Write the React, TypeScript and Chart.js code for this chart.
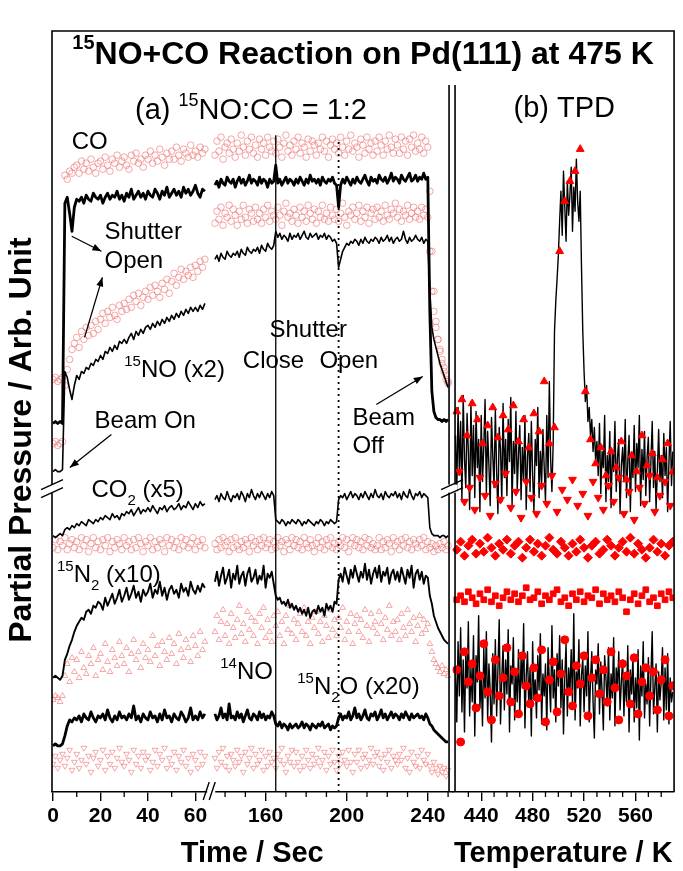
import React, { useEffect, useRef } from 'react';
import { Chart, registerables } from 'chart.js';
Chart.register(...registerables);

// ---------------- time grids ----------------
const timeLeft = [
  0, 1, 2, 3, 4, 5, 6, 7, 8, 9, 10, 11, 12, 13, 14, 15, 16, 17, 18, 19,
  20, 21, 22, 23, 24, 25, 26, 27, 28, 29, 30, 31, 32, 33, 34, 35, 36, 37, 38, 39,
  40, 41, 42, 43, 44, 45, 46, 47, 48, 49, 50, 51, 52, 53, 54, 55, 56, 57, 58, 59,
  60, 61, 62, 63, 64,
];
const timeRight = [
  135, 136, 137, 138, 139, 140, 141, 142, 143, 144, 145, 146, 147, 148, 149, 150, 151, 152, 153, 154,
  155, 156, 157, 158, 159, 160, 161, 162, 163, 164, 165, 166, 167, 168, 169, 170, 171, 172, 173, 174,
  175, 176, 177, 178, 179, 180, 181, 182, 183, 184, 185, 186, 187, 188, 189, 190, 191, 192, 193, 194,
  195, 196, 197, 198, 199, 200, 201, 202, 203, 204, 205, 206, 207, 208, 209, 210, 211, 212, 213, 214,
  215, 216, 217, 218, 219, 220, 221, 222, 223, 224, 225, 226, 227, 228, 229, 230, 231, 232, 233, 234,
  235, 236, 237, 238, 239, 240, 241, 242, 243, 244, 245, 246, 247, 248, 249, 250,
];

// ---------------- panel (a) series, arb. units ----------------
const coLineL = [184,185,184,185,184,294,297,289,280,292, 296,295,297,294,298,296,295,299,297,296, 298,294,297,299,296,298,297,300,296,298, 295,299,297,301,296,298,300,297,299,296, 300,298,297,301,299,296,300,298,302,297, 299,301,298,300,297,302,299,301,298,300, 303,299,297,301,300];
const coLineR = [303,305,302,306,304,303,307,305,304,306, 302,305,307,304,306,303,305,308,304,306, 305,303,307,304,306,305,302,306,304,305, 313,304,306,303,305,307,304,306,305,303, 306,304,307,305,303,306,304,308,305,306, 304,306,303,307,305,304,306,305,307,304, 303,292,303,306,304,307,305,303,306,304, 307,305,304,306,308,305,303,307,305,306, 304,308,306,305,307,304,306,309,305,307, 306,304,308,306,305,307,309,305,306,308, 305,307,306,309,306,307,240,200,190,187, 186,186,185,186,185,186];
const coDotsL = [206,207,205,206,207,308,306,310,309,312, 313,309,315,311,314,310,316,312,309,314, 315,311,317,313,310,316,314,318,312,315, 317,313,311,318,315,319,314,316,312,318, 316,320,314,318,315,321,317,313,319,316, 320,316,322,318,315,321,319,317,323,318, 320,317,322,319,321];
const coDotsR = [318,325,320,327,316,322,324,319,326,321, 317,324,320,328,322,318,325,321,327,319, 323,317,326,321,324,318,327,322,320,325, 319,326,322,317,324,328,320,323,318,325, 321,327,319,324,322,317,326,320,325,323, 318,324,321,327,320,325,317,323,326,321, 324,319,327,322,318,325,321,328,320,324, 322,317,326,323,319,327,321,324,318,325, 320,327,323,318,325,321,328,322,319,326, 323,319,327,321,325,318,326,322,328,320, 324,321,327,319,325,322,300,270,250,235, 226,220,214,210,206,204];
const noLineL = [160,161,160,160,161,210,207,201,196,203, 208,206,210,209,212,211,214,213,216,215, 218,216,220,219,222,220,223,221,225,224, 226,224,227,229,226,230,228,231,229,232, 233,231,234,232,235,233,236,234,237,235, 238,236,239,237,240,238,241,239,242,240, 242,240,243,241,244];
const noLineR = [266,268,265,269,267,266,270,268,267,269, 268,270,267,271,269,268,272,270,269,271, 270,272,269,273,271,270,274,272,271,273, 280,277,279,276,278,277,275,279,276,278, 277,279,276,278,280,277,276,279,277,278, 279,276,278,277,279,276,278,277,275,276, 274,262,266,270,272,274,273,275,274,276, 275,273,276,274,277,275,274,276,275,277, 276,274,277,275,276,278,275,277,274,276, 277,275,276,280,276,274,277,275,276,278, 276,275,277,274,276,275,250,232,226,222, 218,214,211,208,205,202];
const noDotsL = [174,175,173,174,175,203,211,216,221,224, 227,222,230,226,232,228,233,229,235,231, 236,239,234,240,237,242,238,236,243,240, 244,241,246,242,248,245,249,243,247,250, 246,252,248,253,250,247,254,251,256,249, 255,259,253,257,261,256,260,258,262,257, 263,260,265,262,266];
const noDotsR = [284,290,286,292,283,289,287,293,285,291, 288,283,290,286,293,287,284,291,289,285, 292,286,289,284,291,287,293,285,290,288, 286,292,288,283,290,294,287,289,285,291, 288,284,292,287,290,285,293,289,286,291, 284,290,287,293,286,289,285,292,288,286, 291,285,289,294,287,283,290,288,292,286, 289,293,285,290,287,292,284,289,291,286, 292,287,290,285,293,288,286,291,289,294, 287,291,285,290,288,293,286,289,292,287, 290,286,292,288,291,287,270,250,240,232, 226,221,216,212,208,205];
const co2LineL = [128,127,128,129,128,131,132,131,133,132, 134,133,135,134,133,136,135,134,136,135, 137,136,138,137,136,139,137,138,136,139, 138,140,139,141,138,140,142,139,141,140, 142,140,143,141,139,142,141,143,140,142, 143,141,142,144,141,143,142,145,143,141, 144,142,145,143,144];
const co2LineR = [146,148,145,149,147,146,150,147,145,148, 147,149,146,150,148,145,149,147,151,148, 146,149,147,150,148,146,149,147,150,148, 136,135,134,136,135,133,135,134,136,135, 134,136,135,133,135,134,136,135,134,133, 135,134,136,135,133,135,134,136,135,134, 135,146,148,147,149,146,148,150,147,149, 148,146,149,147,150,148,146,149,147,151, 148,147,149,146,150,148,147,149,148,150, 147,149,146,150,148,147,151,148,146,149, 148,150,147,149,148,147,132,129,128,128, 128,127,128,128,127,128];
const co2DotsL = [122,126,121,125,123,127,121,124,126,122, 125,121,127,123,126,120,124,127,122,125, 121,126,123,127,120,125,122,126,124,121, 127,123,125,121,126,122,127,124,120,125, 123,127,121,125,122,126,124,120,127,123, 126,122,125,121,127,123,126,122,124,127, 121,125,123,126,122];
const co2DotsR = [124,121,126,122,127,123,125,120,126,122, 127,123,121,125,122,126,124,120,127,123, 125,121,126,123,127,122,124,126,121,125, 122,127,123,125,120,126,124,121,127,123, 126,122,125,121,127,124,122,126,123,120, 124,127,122,125,121,126,123,127,122,124, 121,125,123,127,122,126,120,124,127,123, 126,122,125,121,127,123,126,122,124,121, 123,127,121,125,122,126,124,120,127,123, 125,121,126,123,127,122,125,121,126,124, 122,126,123,127,121,125,122,124,120,123, 121,124,122,125,121,123];
const n2LineL = [57,58,57,56,58,66,69,73,76,80, 83,85,87,86,90,91,89,93,92,95, 94,91,97,93,96,99,94,97,101,95, 98,102,96,99,103,97,100,95,101,98, 100,104,97,101,99,105,98,102,96,101, 103,99,101,97,104,100,102,98,105,101, 99,103,100,104,102];
const n2LineR = [105,110,103,108,112,104,107,111,102,109, 106,113,104,108,110,103,109,112,105,107, 111,104,108,106,113,102,109,107,110,104, 98,96,97,94,95,93,96,92,94,91, 93,90,92,89,91,88,92,87,90,91, 89,93,90,92,88,94,91,93,90,95, 94,106,109,105,112,108,104,111,107,113, 109,105,110,107,114,106,111,104,109,112, 107,113,105,110,108,112,104,109,111,106, 110,105,112,108,104,111,107,113,102,109, 111,106,110,104,108,107,98,94,88,85, 82,80,78,76,75,74];
const n2DotsL = [46,48,47,45,48,58,64,55,67,60, 66,57,70,62,59,68,64,72,58,66, 69,61,74,65,60,71,67,63,75,68, 64,72,60,69,76,66,70,62,74,67, 71,65,78,68,73,63,75,70,66,77, 69,74,64,79,71,67,76,72,65,78, 73,68,80,71,75];
const n2DotsR = [80,88,76,85,91,78,84,74,89,82, 77,86,93,79,84,75,90,81,87,78, 85,74,89,82,92,77,86,80,75,88, 83,90,78,85,74,88,81,93,79,86, 76,84,89,80,92,78,85,74,87,82, 90,79,85,75,88,83,77,91,81,86, 78,87,82,92,76,85,80,89,74,84, 88,80,86,77,91,83,75,89,82,85, 79,90,84,76,87,81,93,78,85,80, 86,76,89,82,78,91,84,80,87,75, 83,88,79,86,81,84,74,70,66,64, 62,60,63,59,61,58];
const n2oLineL = [23,24,23,23,24,28,33,36,35,37, 36,38,35,39,37,36,40,37,35,38, 37,39,36,41,37,35,38,36,40,37, 38,36,39,37,43,36,38,35,39,37, 36,40,37,38,35,39,36,41,37,38, 35,39,37,36,40,38,35,37,42,36, 38,36,40,37,39];
const n2oLineR = [39,36,38,42,37,39,36,44,37,38, 36,40,37,39,35,38,41,37,36,39, 38,36,40,37,39,36,38,37,40,38, 34,33,35,32,34,33,31,34,32,33, 34,32,33,35,32,34,33,31,34,33, 32,34,33,35,32,33,34,31,33,32, 33,37,39,36,38,37,40,36,38,42, 37,39,36,38,41,37,36,39,38,40, 36,38,41,37,39,36,38,40,37,39, 38,36,39,37,40,38,36,39,37,38, 39,37,38,36,39,37,34,33,31,30, 29,28,27,26,25,25];
const no14DotsL = [14,18,12,16,19,13,17,21,11,15, 19,12,16,22,14,18,10,17,20,13, 16,21,11,18,14,20,12,17,22,15, 13,19,16,10,21,14,18,12,20,16, 18,11,15,21,13,19,16,22,12,17, 14,20,11,18,15,21,13,17,10,19, 16,12,20,14,18];
const no14DotsR = [17,12,20,15,22,13,18,11,19,16, 13,21,15,18,10,20,14,17,22,12, 19,14,16,21,11,18,13,20,15,17, 12,19,16,22,14,10,18,15,21,13, 20,15,11,18,13,21,16,12,19,14, 17,22,13,16,20,11,18,14,21,15, 11,18,14,20,16,13,21,15,10,19, 15,21,12,17,19,13,16,22,14,18, 20,13,17,11,19,15,21,12,18,16, 14,19,16,22,12,17,10,20,15,13, 18,12,21,16,14,19,13,10,15,12, 9,13,10,12,8,11];

const shutterCloseTime = 165;
const shutterOpenTime = 196;
const shutterLineTop = 328;

// ---------------- panel (b) TPD ----------------
const tempGrid = [
  420,421,422,423,424,425,426,427,428,429, 430,431,432,433,434,435,436,437,438,439,
  440,441,442,443,444,445,446,447,448,449, 450,451,452,453,454,455,456,457,458,459,
  460,461,462,463,464,465,466,467,468,469, 470,471,472,473,474,475,476,477,478,479,
  480,481,482,483,484,485,486,487,488,489, 490,491,492,493,494,495,496,497,498,499,
  500,501,502,503,504,505,506,507,508,509, 510,511,512,513,514,515,516,517,518,519,
  520,521,522,523,524,525,526,527,528,529, 530,531,532,533,534,535,536,537,538,539,
  540,541,542,543,544,545,546,547,548,549, 550,551,552,553,554,555,556,557,558,559,
  560,561,562,563,564,565,566,567,568,569, 570,571,572,573,574,575,576,577,578,579,
  580,581,582,583,584,585,586,587,588,589,
];
const tpdUpperLine = [178,150,192,160,185,145,198,166,152,189, 170,141,195,158,183,147,190,162,176,140, 188,155,172,196,149,180,163,143,187,168, 152,191,160,139,182,171,145,194,157,176, 148,186,165,197,143,175,159,190,151,168, 183,146,172,155,188,141,167,179,150,185, 158,140,176,163,192,147,170,154,181,162, 145,188,157,205,166,150,175,230,245,256, 268,285,300,278,310,292,275,305,288,298, 312,280,302,290,316,295,285,300,262,230, 210,195,203,185,192,178,186,170,182,165, 175,158,184,149,170,162,188,145,168,155, 180,142,171,160,185,150,167,176,139,163, 172,155,186,147,165,178,140,169,157,183, 150,174,162,188,143,171,156,180,148,167, 177,145,165,185,152,170,141,160,181,155, 168,147,179,158,172,140,164,185,153,170];
const tpdLowerLine = [60,35,75,48,82,40,66,30,70,52, 85,38,62,45,78,28,68,55,88,42, 58,33,72,47,80,36,64,50,25,69, 44,76,38,61,86,34,57,73,41,66, 49,81,30,63,54,77,36,60,45,71, 39,67,52,84,32,58,70,43,62,28, 75,46,56,37,68,51,79,34,59,48, 64,31,72,55,40,83,47,61,35,69, 53,78,42,66,29,57,74,38,62,50, 71,44,89,36,60,52,76,33,58,67, 40,63,48,80,35,56,70,45,27,61, 54,74,39,65,50,31,68,57,43,72, 36,59,47,77,33,62,52,70,41,55, 66,38,58,45,73,30,61,49,68,35, 57,42,71,26,63,48,75,37,54,44, 67,33,58,80,39,52,64,30,60,46, 55,72,36,62,41,69,34,57,45,50];
const tempUp = [421,425,429,433,437,441,445,449,453,457, 461,465,469,473,477,481,485,489,493,497, 501,505,509,513,517,521,525,529,533,537, 541,545,549,553,557,561,565,569,573,577, 581,585,589];
const upTriVals = [190,196,178,194,186,174,183,192,177,188, 181,193,175,186,172,189,180,205,174,182, 270,295,305,310,321,200,176,164,172,158, 170,162,175,156,168,160,178,163,169,157, 166,174,160];
const tempDown = [423,427,431,435,439,443,447,451,455,459, 463,467,471,475,479,483,487,491,495,499, 503,507,511,515,519,523,527,531,535,539, 543,547,551,555,559,563,567,571,575,579, 583,587];
const downTriVals = [160,145,152,141,157,148,138,154,146,159, 142,150,137,155,147,139,153,144,158,140, 151,146,156,143,149,138,155,147,141,153, 145,157,139,150,136,152,144,158,140,148, 155,143];
const tempBand = [421,424,427,430,433,436,439,442,445,448, 451,454,457,460,463,466,469,472,475,478, 481,484,487,490,493,496,499,502,505,508, 511,514,517,520,523,526,529,532,535,538, 541,544,547,550,553,556,559,562,565,568, 571,574,577,580,583,586,589];
const diamondVals = [121,125,118,123,126,119,124,120,127,122, 118,124,121,126,119,123,125,117,122,126, 120,124,118,123,127,121,119,125,122,118, 124,120,126,122,117,123,125,119,121,126, 123,118,122,125,120,127,119,124,121,117, 122,126,120,124,118,123,125];
const squareVals = [96,98,95,100,97,94,99,96,101,95, 98,93,97,100,96,99,95,98,102,96, 97,100,94,98,96,99,101,95,97,93, 99,96,100,95,98,97,101,94,99,96, 98,95,100,97,90,96,99,94,98,101, 95,97,93,99,96,100,97];
const circleVals = [61,25,70,55,64,42,58,74,50,36, 66,48,57,72,45,60,39,68,53,44, 62,47,71,35,56,65,40,59,76,50, 43,63,54,68,38,57,66,49,61,45, 70,52,36,64,58,44,67,39,55,62, 48,60,41,56,66,38,53];

// ---------------- tick labels ----------------
const timeLeftTicks = [0, 20, 40, 60];
const timeLeftMinor = [10, 30, 50];
const timeRightTicks = [160, 200, 240];
const timeRightMinor = [140, 150, 170, 180, 190, 210, 220, 230, 250];
const tempTicks = [440, 480, 520, 560];
const tempMinor = [430, 450, 460, 470, 490, 500, 510, 530, 540, 550, 570, 580];

const FAM = "'Liberation Sans', Arial, sans-serif";
const NARROW = "'Liberation Sans Narrow', 'Arial Narrow', 'Liberation Sans', Arial, sans-serif";

const zip = (xs: number[], ys: number[]) => ys.map((y, i) => ({ x: xs[i], y }));

const lineDs = (xs: number[], ys: number[], axis: string, w: number) => ({
  data: zip(xs, ys), xAxisID: axis, yAxisID: 'y', borderColor: '#000', borderWidth: w,
  pointRadius: 0, fill: false, tension: 0, order: 1, borderJoinStyle: 'round',
});
const pinkDs = (xs: number[], ys: number[], axis: string, style: string, rot = 0) => ({
  data: zip(xs, ys), xAxisID: axis, yAxisID: 'y', showLine: false, pointStyle: style,
  pointRotation: rot, pointRadius: 3.3, pointBorderWidth: 1,
  pointBorderColor: 'rgba(238,110,110,0.6)', pointBackgroundColor: 'rgba(255,255,255,0)', order: 5,
});
const redDs = (xs: number[], ys: number[], style: string, rot = 0, r = 4) => ({
  data: zip(xs, ys), xAxisID: 'x3', yAxisID: 'y', showLine: false, pointStyle: style,
  pointRotation: rot, pointRadius: r, pointBorderWidth: 1,
  pointBorderColor: '#ff0000', pointBackgroundColor: '#ff0000', order: 0,
});

type Part = { t: string; k?: 'sup' | 'sub' };
type Note = { parts: Part[]; axis: string; x: number; y: number; align?: 'left' | 'center' };
const notes: Note[] = [
  { parts: [{ t: 'CO' }], axis: 'x1', x: 7.9, y: 324.5 },
  { parts: [{ t: 'Shutter' }], axis: 'x1', x: 21.7, y: 279.5 },
  { parts: [{ t: 'Open' }], axis: 'x1', x: 21.7, y: 265 },
  { parts: [{ t: '15', k: 'sup' }, { t: 'NO (x2)' }], axis: 'x1', x: 30, y: 210.5 },
  { parts: [{ t: 'Beam On' }], axis: 'x1', x: 17.5, y: 185 },
  { parts: [{ t: 'CO' }, { t: '2', k: 'sub' }, { t: ' (x5)' }], axis: 'x1', x: 16.2, y: 150.5 },
  { parts: [{ t: '15', k: 'sup' }, { t: 'N' }, { t: '2', k: 'sub' }, { t: ' (x10)' }], axis: 'x1', x: 1.7, y: 108 },
  { parts: [{ t: 'Shutter' }], axis: 'x2', x: 181, y: 230.5, align: 'center' },
  { parts: [{ t: 'Close' }], axis: 'x2', x: 163.9, y: 215, align: 'center' },
  { parts: [{ t: 'Open' }], axis: 'x2', x: 201, y: 215, align: 'center' },
  { parts: [{ t: 'Beam' }], axis: 'x2', x: 202.8, y: 186.5 },
  { parts: [{ t: 'Off' }], axis: 'x2', x: 202.8, y: 172.5 },
  { parts: [{ t: '14', k: 'sup' }, { t: 'NO' }], axis: 'x2', x: 137.6, y: 59.5 },
  { parts: [{ t: '15', k: 'sup' }, { t: 'N' }, { t: '2', k: 'sub' }, { t: 'O (x20)' }], axis: 'x2', x: 175.6, y: 52 },
];
type Arrow = { axis: string; x0: number; y0: number; x1: number; y1: number };
const arrows: Arrow[] = [
  { axis: 'x1', x0: 7.9, y0: 277.5, x1: 20.4, y1: 270 },
  { axis: 'x1', x0: 13.3, y0: 227, x1: 20.8, y1: 257 },
  { axis: 'x1', x0: 24.6, y0: 178.5, x1: 7.1, y1: 162 },
  { axis: 'x2', x0: 214.6, y0: 193.5, x1: 237.5, y1: 207.5 },
];

function rich(ctx: CanvasRenderingContext2D, parts: Part[], x: number, y: number, size: number, weight: string, align: string) {
  const big = `${weight} ${size}px ${FAM}`;
  const small = `${weight} ${Math.round(size * 0.62)}px ${FAM}`;
  const ws = parts.map((p) => { ctx.font = p.k ? small : big; return ctx.measureText(p.t).width; });
  const total = ws.reduce((a, b) => a + b, 0);
  let cx = align === 'center' ? x - total / 2 : x;
  ctx.textAlign = 'left';
  ctx.textBaseline = 'middle';
  parts.forEach((p, i) => {
    ctx.font = p.k ? small : big;
    const dy = p.k === 'sup' ? -size * 0.36 : p.k === 'sub' ? size * 0.42 : 0;
    ctx.fillText(p.t, cx, y + dy);
    cx += ws[i];
  });
}

function arrowTo(ctx: CanvasRenderingContext2D, ax: number, ay: number, bx: number, by: number) {
  ctx.beginPath(); ctx.moveTo(ax, ay); ctx.lineTo(bx, by); ctx.stroke();
  const a = Math.atan2(by - ay, bx - ax);
  const L = 9, W = 3.5;
  ctx.beginPath();
  ctx.moveTo(bx, by);
  ctx.lineTo(bx - L * Math.cos(a) + W * Math.sin(a), by - L * Math.sin(a) - W * Math.cos(a));
  ctx.lineTo(bx - L * Math.cos(a) - W * Math.sin(a), by - L * Math.sin(a) + W * Math.cos(a));
  ctx.closePath(); ctx.fill();
}

const decor = {
  id: 'decor',
  beforeDraw(chart: any) {
    const c = chart.ctx; c.save(); c.fillStyle = '#fff'; c.fillRect(0, 0, chart.width, chart.height); c.restore();
  },
  afterDraw(chart: any) {
    const ctx: CanvasRenderingContext2D = chart.ctx;
    const { left, right, top, bottom } = chart.chartArea;
    const sx1 = chart.scales.x1, sx2 = chart.scales.x2, sx3 = chart.scales.x3, sy = chart.scales.y;
    ctx.save();
    ctx.strokeStyle = '#000'; ctx.fillStyle = '#000'; ctx.lineWidth = 1.6;
    // outer frame
    ctx.beginPath();
    ctx.moveTo(left, bottom); ctx.lineTo(left, top); ctx.lineTo(right, top); ctx.lineTo(right, bottom);
    ctx.stroke();
    // panel divider (double line)
    const dv = sx3.left;
    ctx.beginPath();
    ctx.moveTo(dv - 3.5, top + 54); ctx.lineTo(dv - 3.5, bottom);
    ctx.moveTo(dv + 2.5, top + 54); ctx.lineTo(dv + 2.5, bottom);
    ctx.stroke();
    // minor ticks
    ctx.lineWidth = 1.3;
    const minor = (s: any, vals: number[]) => vals.forEach((v) => {
      const px = s.getPixelForValue(v); ctx.beginPath(); ctx.moveTo(px, bottom); ctx.lineTo(px, bottom + 5); ctx.stroke();
    });
    minor(sx1, timeLeftMinor); minor(sx2, timeRightMinor); minor(sx3, tempMinor);
    // y break marks
    const yb = sy.getPixelForValue(151.5);
    ctx.fillStyle = '#fff';
    ctx.fillRect(left - 2, yb - 4, 4, 8);
    ctx.fillRect(dv - 6, yb - 4, 11, 8);
    ctx.fillStyle = '#000';
    ctx.lineWidth = 1.4;
    const brk = (cx: number, w: number) => {
      ctx.beginPath();
      ctx.moveTo(cx - w, yb + 1); ctx.lineTo(cx + w, yb - 9);
      ctx.moveTo(cx - w, yb + 9); ctx.lineTo(cx + w, yb - 1);
      ctx.stroke();
    };
    brk(left, 11); brk(dv - 0.5, 11);
    // x break mark
    const xb = sx1.right;
    ctx.fillStyle = '#fff'; ctx.fillRect(xb - 4, bottom - 2, 8, 5); ctx.fillStyle = '#000';
    ctx.beginPath();
    ctx.moveTo(xb - 8, bottom + 8); ctx.lineTo(xb - 2, bottom - 10);
    ctx.moveTo(xb - 2, bottom + 8); ctx.lineTo(xb + 4, bottom - 10);
    ctx.stroke();
    // annotations
    notes.forEach((n) => {
      const s = chart.scales[n.axis];
      rich(ctx, n.parts, s.getPixelForValue(n.x), sy.getPixelForValue(n.y), 24, 'normal', n.align || 'left');
    });
    ctx.lineWidth = 1.3;
    arrows.forEach((a) => {
      const s = chart.scales[a.axis];
      arrowTo(ctx, s.getPixelForValue(a.x0), sy.getPixelForValue(a.y0), s.getPixelForValue(a.x1), sy.getPixelForValue(a.y1));
    });
    // titles
    rich(ctx, [{ t: '15', k: 'sup' }, { t: 'NO+CO Reaction on Pd(111) at 475 K' }], (left + right) / 2, top + 24, 32, 'bold', 'center');
    rich(ctx, [{ t: '(a) ' }, { t: '15', k: 'sup' }, { t: 'NO:CO = 1:2' }], sx1.left + 83, top + 80, 29, 'normal', 'left');
    rich(ctx, [{ t: '(b) TPD' }], (sx3.left + right) / 2 + 1, top + 78, 29, 'normal', 'center');
    ctx.font = `bold 29px ${NARROW}`;
    ctx.textAlign = 'center'; ctx.textBaseline = 'middle';
    ctx.fillText('Time / Sec', (sx1.left + sx2.right) / 2, bottom + 62);
    ctx.fillText('Temperature / K', (sx3.left + right) / 2, bottom + 62);
    ctx.save();
    ctx.translate(22, 440);
    ctx.rotate(-Math.PI / 2);
    ctx.font = `bold 32px ${FAM}`;
    ctx.fillText('Partial Pressure / Arb. Unit', 0, 0);
    ctx.restore();
    ctx.restore();
  },
};

const xScale = (min: number, max: number, weight: number, ticks: number[]) => ({
  type: 'linear', position: 'bottom', stack: 'bottom', stackWeight: weight, min, max,
  afterBuildTicks: (s: any) => { s.ticks = ticks.map((v) => ({ value: v })); },
  afterFit: (s: any) => { s.height = 79; },
  grid: { drawOnChartArea: false, drawTicks: true, tickLength: 9, color: '#000', lineWidth: 1.4 },
  border: { display: true, color: '#000', width: 1.6 },
  ticks: { autoSkip: false, maxRotation: 0, padding: 3, color: '#000', font: { family: NARROW, size: 21, weight: 'bold' } },
});

export default function App() {
  const ref = useRef<HTMLCanvasElement>(null);
  useEffect(() => {
    document.body.style.margin = '0';
    const datasets: any[] = [
      lineDs(timeLeft, coLineL, 'x1', 2.8), lineDs(timeRight, coLineR, 'x2', 2.8),
      lineDs(timeLeft, noLineL, 'x1', 1.6), lineDs(timeRight, noLineR, 'x2', 1.6),
      lineDs(timeLeft, co2LineL, 'x1', 1.6), lineDs(timeRight, co2LineR, 'x2', 1.6),
      lineDs(timeLeft, n2LineL, 'x1', 1.9), lineDs(timeRight, n2LineR, 'x2', 1.9),
      lineDs(timeLeft, n2oLineL, 'x1', 2.8), lineDs(timeRight, n2oLineR, 'x2', 2.8),
      pinkDs(timeLeft, coDotsL, 'x1', 'circle'), pinkDs(timeRight, coDotsR, 'x2', 'circle'),
      pinkDs(timeLeft, noDotsL, 'x1', 'circle'), pinkDs(timeRight, noDotsR, 'x2', 'circle'),
      pinkDs(timeLeft, co2DotsL, 'x1', 'circle'), pinkDs(timeRight, co2DotsR, 'x2', 'circle'),
      pinkDs(timeLeft, n2DotsL, 'x1', 'triangle'), pinkDs(timeRight, n2DotsR, 'x2', 'triangle'),
      pinkDs(timeLeft, no14DotsL, 'x1', 'triangle', 180), pinkDs(timeRight, no14DotsR, 'x2', 'triangle', 180),
      { data: [{ x: shutterCloseTime, y: 0 }, { x: shutterCloseTime, y: shutterLineTop }], xAxisID: 'x2', yAxisID: 'y', borderColor: '#000', borderWidth: 1.3, pointRadius: 0, order: 2 },
      { data: [{ x: shutterOpenTime, y: 0 }, { x: shutterOpenTime, y: shutterLineTop - 2 }], xAxisID: 'x2', yAxisID: 'y', borderColor: '#000', borderWidth: 1.8, borderDash: [2, 4], pointRadius: 0, order: 2 },
      lineDs(tempGrid, tpdUpperLine, 'x3', 1.4), lineDs(tempGrid, tpdLowerLine, 'x3', 1.4),
      redDs(tempUp, upTriVals, 'triangle', 0, 4.5), redDs(tempDown, downTriVals, 'triangle', 180, 4.5),
      redDs(tempBand, diamondVals, 'rectRot', 0, 4.5), redDs(tempBand, squareVals, 'rect', 0, 4),
      redDs(tempBand, circleVals, 'circle', 0, 4),
    ];
    const chart = new Chart(ref.current as HTMLCanvasElement, {
      type: 'line',
      data: { datasets },
      options: {
        responsive: false, animation: false, maintainAspectRatio: false,
        layout: { padding: { left: 52, right: 2, top: 31, bottom: 0 } },
        plugins: { legend: { display: false }, tooltip: { enabled: false } },
        scales: {
          x1: xScale(-0.42, 66.67, 161, timeLeftTicks),
          x2: xScale(133.17, 252.2, 244, timeRightTicks),
          x3: xScale(417.7, 590, 224, tempTicks),
          y: { type: 'linear', min: 0, max: 380, display: false },
        },
      } as any,
      plugins: [decor as any],
    });
    return () => chart.destroy();
  }, []);
  return (
    <div style={{ width: 683, height: 871 }}>
      <canvas ref={ref} width={683} height={871} style={{ display: 'block' }} />
    </div>
  );
}
